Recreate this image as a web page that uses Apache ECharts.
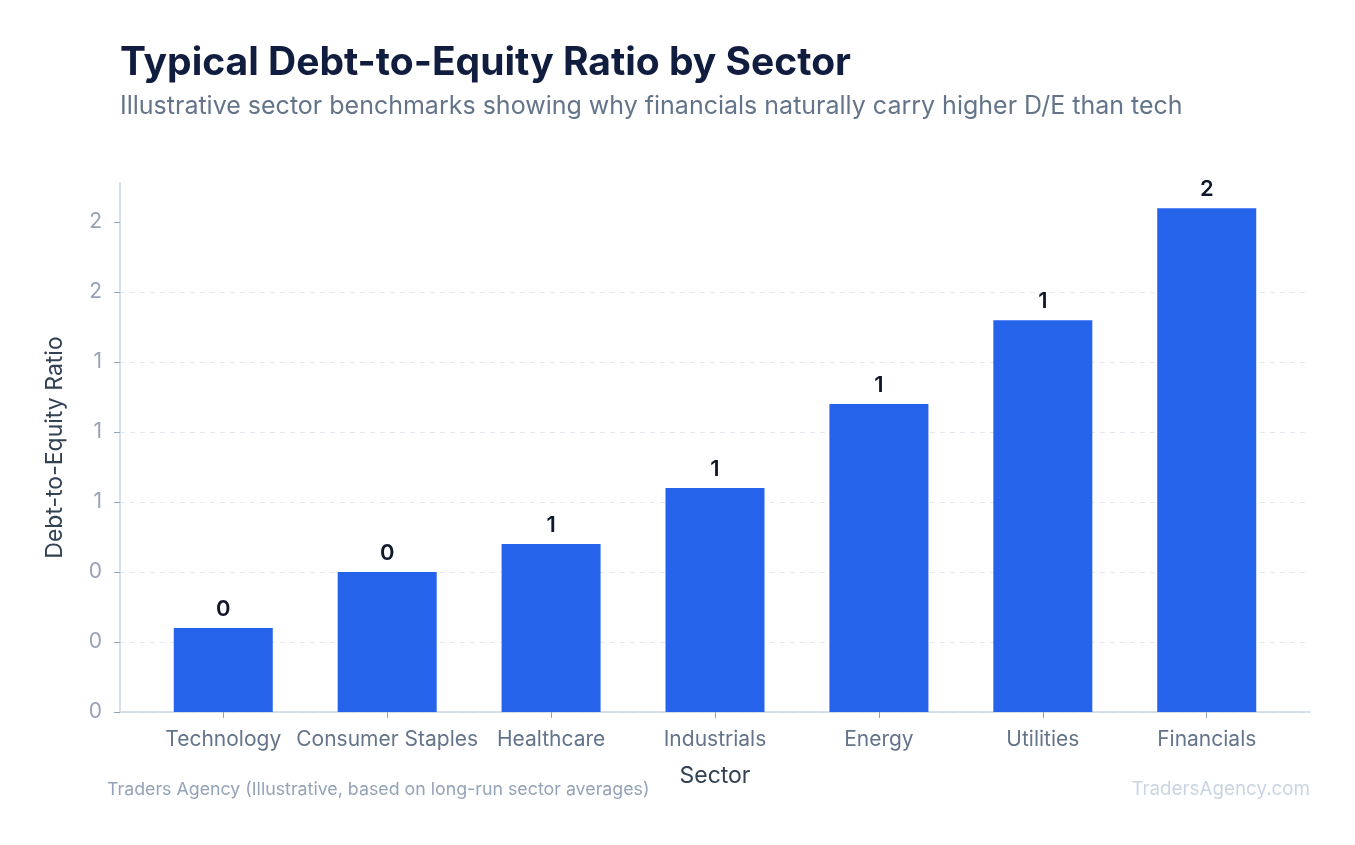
<!DOCTYPE html>
<html>
<head>
<meta charset="utf-8">
<script src="https://cdn.jsdelivr.net/npm/echarts@6/dist/echarts.min.js"></script>
<style>
html,body{margin:0;padding:0;background:#fff;}
#chart{width:1355px;height:845px;}
</style>
</head>
<body>
<div id="chart"></div>
<script>
const categories = ["Technology", "Consumer Staples", "Healthcare", "Industrials", "Energy", "Utilities", "Financials"];
const deRatio = [0.3, 0.5, 0.6, 0.8, 1.1, 1.4, 1.8];
const yTickValues = [0, 0.25, 0.5, 0.75, 1.0, 1.25, 1.5, 1.75];
const yMax = 1.89;
const xMin = -0.63;
const xMax = 6.63;

function roundHalfEven(v) {
  const f = Math.floor(v);
  const d = v - f;
  if (Math.abs(d - 0.5) < 1e-9) return (f % 2 === 0) ? f : f + 1;
  return Math.round(v);
}

const catIndex = categories.map((c, i) => i);
const seriesData = categories.map((c, i) => [i, deRatio[i]]);

const FONT = 'Inter, "Noto Sans", sans-serif';
const chart = echarts.init(document.getElementById('chart'), null, {renderer: 'canvas'});
chart.setOption({
  backgroundColor: '#ffffff',
  textStyle: {fontFamily: FONT},
  title: [
    {
      text: 'Typical Debt-to-Equity Ratio by Sector',
      left: 120, top: 44, padding: 0,
      textStyle: {fontFamily: FONT, fontSize: 39, fontWeight: 700, color: '#111d3e'}
    },
    {
      text: 'Illustrative sector benchmarks showing why financials naturally carry higher D/E than tech',
      left: 120, top: 94, padding: 0,
      textStyle: {fontFamily: FONT, fontSize: 25, fontWeight: 400, color: '#64748b'}
    },
    {
      text: 'Traders Agency (Illustrative, based on long-run sector averages)',
      left: 107, top: 781, padding: 0,
      textStyle: {fontFamily: FONT, fontSize: 17.8, fontWeight: 400, color: '#94a3b8'}
    },
    {
      text: 'TradersAgency.com',
      right: 45, top: 780, padding: 0,
      textStyle: {fontFamily: FONT, fontSize: 18.8, fontWeight: 400, color: '#cbd5e1'}
    }
  ],
  grid: {left: 120, right: 45, top: 183, bottom: 133, containLabel: false},
  xAxis: {
    type: 'value',
    min: xMin,
    max: xMax,
    name: 'Sector',
    nameLocation: 'middle',
    nameGap: 53,
    nameTextStyle: {fontFamily: FONT, fontSize: 23, color: '#334155'},
    axisLine: {show: true, onZero: false, lineStyle: {color: '#cbd5e1', width: 1.5}},
    axisTick: {show: true, length: 6, lineStyle: {color: '#94a3b8'}, customValues: catIndex},
    axisLabel: {
      fontFamily: FONT, fontSize: 21, color: '#64748b', margin: 17,
      customValues: catIndex,
      formatter: v => categories[Math.round(v)]
    },
    splitLine: {show: false}
  },
  yAxis: {
    type: 'value',
    min: 0,
    max: yMax,
    name: 'Debt-to-Equity Ratio',
    nameLocation: 'middle',
    nameGap: 53,
    nameRotate: 90,
    nameTextStyle: {fontFamily: FONT, fontSize: 23, color: '#334155'},
    axisLine: {show: true, onZero: false, lineStyle: {color: '#cbd5e1', width: 1.5}},
    axisTick: {show: true, length: 6, lineStyle: {color: '#94a3b8'}, customValues: yTickValues},
    axisLabel: {
      fontFamily: FONT, fontSize: 21, color: '#94a3b8', margin: 18,
      customValues: yTickValues,
      formatter: v => String(roundHalfEven(v))
    },
    splitLine: {show: true, showMaxLine: false, lineStyle: {color: '#e5e9ef', type: [5, 5], width: 1}}
  },
  series: [{
    type: 'bar',
    data: seriesData,
    barWidth: 99,
    itemStyle: {color: '#2563eb'},
    label: {
      show: true, position: 'top', distance: 8,
      fontFamily: FONT, fontSize: 22, fontWeight: 600, color: '#0f172a',
      formatter: p => String(roundHalfEven(p.value[1]))
    }
  }]
});
</script>
</body>
</html>
